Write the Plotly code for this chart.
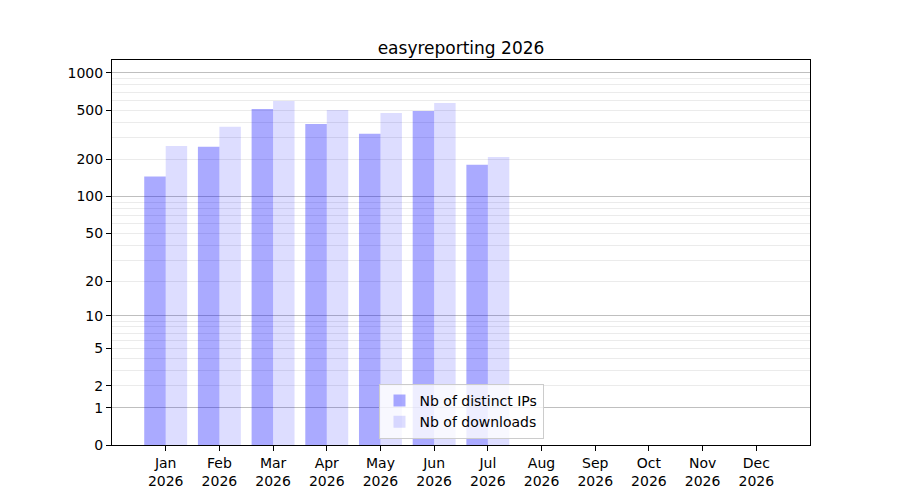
import numpy as np
import plotly.graph_objects as go

months = ["Jan", "Feb", "Mar", "Apr", "May", "Jun", "Jul", "Aug", "Sep", "Oct", "Nov", "Dec"]
year = "2026"
distinct_ips = [145, 253, 512, 387, 322, 493, 181, 0, 0, 0, 0, 0]
downloads = [257, 367, 594, 503, 475, 572, 209, 0, 0, 0, 0, 0]
y_labels = [0, 1, 2, 5, 10, 20, 50, 100, 200, 500, 1000]
major_grid = [1, 10, 100, 1000]
minor_grid = [m * d for d in (1, 10, 100) for m in range(2, 10)]
y_max = 1272


def tf(v):
    return np.log10(1 + np.asarray(v, dtype=float))


x = list(range(len(months)))
ticktext = [f"{m}<br>{year}" for m in months]
font = dict(family="DejaVu Sans", size=14, color="black")

fig = go.Figure()
fig.add_trace(go.Bar(x=x, y=tf(distinct_ips), name="Nb of distinct IPs",
                     offset=-0.4, width=0.4,
                     marker=dict(color="rgba(0,0,255,0.333)", line=dict(width=0)),
                     customdata=distinct_ips, hovertemplate="%{customdata}"))
fig.add_trace(go.Bar(x=x, y=tf(downloads), name="Nb of downloads", yaxis="y2",
                     offset=0, width=0.4,
                     marker=dict(color="rgba(0,0,255,0.133)", line=dict(width=0)),
                     customdata=downloads, hovertemplate="%{customdata}"))

yr = [0, float(tf(y_max))]
fig.update_layout(
    width=900, height=500,
    margin=dict(l=104, r=98, t=52, b=63),
    paper_bgcolor="white", plot_bgcolor="white",
    font=font,
    barmode="overlay",
    title=dict(text="easyreporting 2026", x=0.5, xref="paper", xanchor="center",
               y=1, yref="paper", yanchor="bottom", pad=dict(b=6),
               font=dict(family="DejaVu Sans", size=17, color="black")),
    xaxis=dict(range=[-1, 12], tickmode="array", tickvals=x, ticktext=ticktext,
               showgrid=False, zeroline=False, showline=True, mirror=True,
               linecolor="black", linewidth=1, ticks="outside", ticklen=5,
               tickcolor="black", tickfont=font),
    yaxis=dict(range=yr, tickmode="array", tickvals=list(tf(y_labels)),
               ticktext=[str(v) for v in y_labels],
               showgrid=False, zeroline=False, showline=True, mirror=True,
               linecolor="black", linewidth=1, ticks="outside", ticklen=5,
               tickcolor="black", tickfont=font,
               minor=dict(tickmode="array", tickvals=list(tf(minor_grid)),
                          showgrid=True, gridcolor="#ebebeb", gridwidth=1, ticks="")),
    yaxis2=dict(range=yr, overlaying="y", side="left", tickmode="array",
                tickvals=list(tf(major_grid)), showticklabels=False, ticks="",
                showgrid=True, gridcolor="#bfbfbf", gridwidth=1, zeroline=False,
                showline=False),
    legend=dict(x=0.5, xanchor="center", y=0.016, yanchor="bottom",
                bgcolor="rgba(255,255,255,0.8)", bordercolor="#cccccc", borderwidth=1,
                font=font, traceorder="normal"),
    showlegend=True,
)

fig.write_html("out.html")
